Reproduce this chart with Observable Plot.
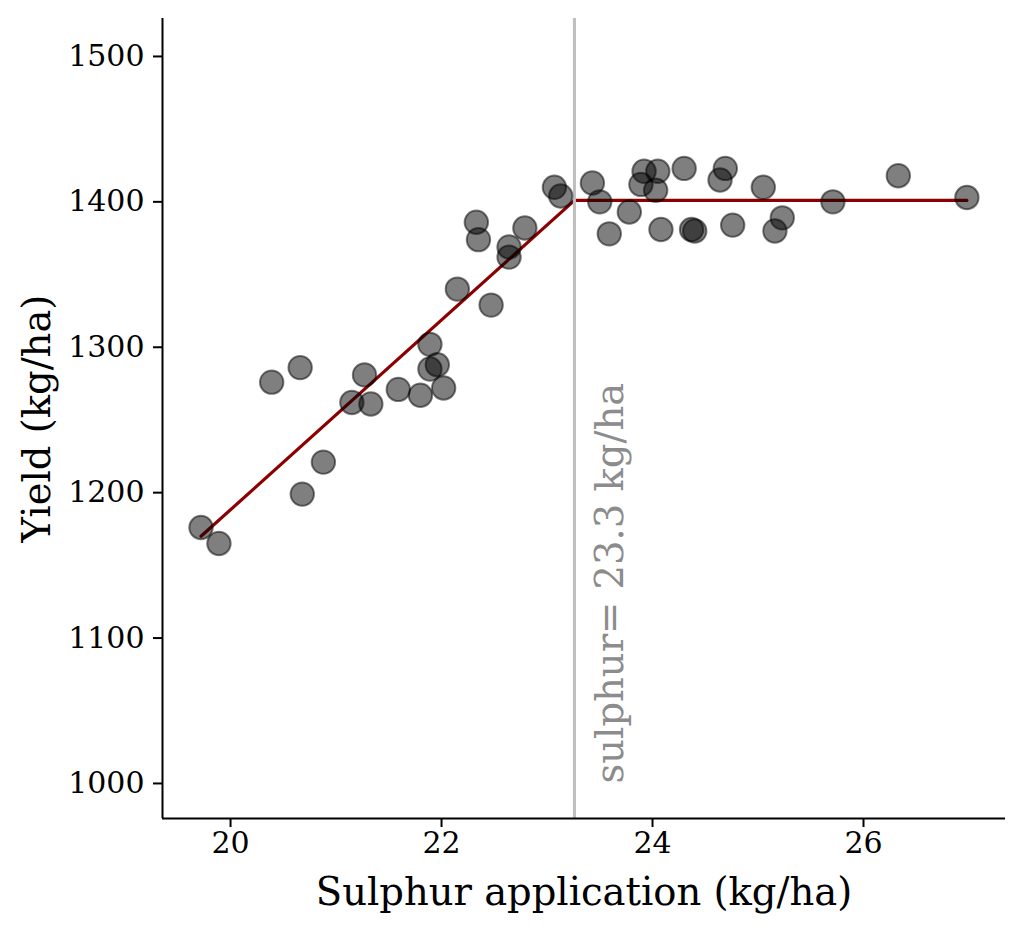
<!DOCTYPE html>
<html>
<head>
<meta charset="utf-8">
<script src="https://cdn.jsdelivr.net/npm/d3@7"></script>
<script src="https://cdn.jsdelivr.net/npm/@observablehq/plot@0.6"></script>
<style>
  html, body { margin: 0; padding: 0; background: white; }
</style>
</head>
<body>
<div id="chart"></div>
<script>
const sulphur = [19.72, 19.89, 20.39, 20.66, 20.68, 20.88, 21.15, 21.27, 21.33, 21.59, 21.80, 21.89, 21.89, 21.96, 22.02, 22.15, 22.47, 22.33, 22.35, 22.64, 22.64, 22.79, 23.07, 23.13, 23.43, 23.50, 23.78, 23.59, 23.92, 23.89, 24.05, 24.03, 24.08, 24.30, 24.37, 24.40, 24.64, 24.69, 24.76, 25.05, 25.23, 25.16, 25.71, 26.33, 26.98];
const yieldKg = [1176, 1165, 1276, 1286, 1199, 1221, 1262, 1281, 1261, 1271, 1267, 1302, 1285, 1288, 1272, 1340, 1329, 1386, 1374, 1369, 1362, 1382, 1410, 1404, 1413, 1400, 1393, 1378, 1421, 1412, 1421, 1408, 1381, 1423, 1381, 1380, 1415, 1423, 1384, 1410, 1389, 1380, 1400, 1418, 1403];

// Linear-plateau fit
const fitX = [19.72, 23.26, 26.98];
const fitY = [1170, 1401, 1401];

// Breakpoint and annotation
const breakpoint = [23.26];
const annotationLabel = ["sulphur= 23.3 kg/ha"];
const annotationX = [23.6];
const annotationY = [1000];

// Axis ticks and titles
const xTicks = [20, 22, 24, 26];
const yTicks = [1000, 1100, 1200, 1300, 1400, 1500];
const xTitle = "Sulphur application (kg/ha)";
const yTitle = "Yield (kg/ha)";

const points = sulphur.map((s, i) => ({ s, y: yieldKg[i] }));
const fit = fitX.map((s, i) => ({ s, y: fitY[i] }));
const ann = annotationLabel.map((t, i) => ({ t, s: annotationX[i], y: annotationY[i] }));

const xDomain = [19.355, 27.346];
const yDomain = [975.9, 1526.1];

const chart = Plot.plot({
  width: 1024,
  height: 931,
  marginLeft: 162,
  marginRight: 19,
  marginTop: 18,
  marginBottom: 113,
  style: { fontFamily: "DejaVu Serif", background: "white", color: "black" },
  x: { domain: xDomain, label: null },
  y: { domain: yDomain, label: null },
  marks: [
    Plot.line(fit, { x: "s", y: "y", stroke: "#8B0000", strokeWidth: 3.2 }),
    Plot.ruleX(breakpoint, { stroke: "#BEBEBE", strokeWidth: 3 }),
    Plot.dot(points, { x: "s", y: "y", r: 11.7, fill: "black", fillOpacity: 0.5, stroke: "black", strokeOpacity: 0.5, strokeWidth: 2 }),
    Plot.text(ann, { x: "s", y: "y", text: "t", rotate: -90, textAnchor: "start", lineAnchor: "middle", fill: "#8c8c8c", fontSize: 38.5, fontFamily: "DejaVu Serif" }),
    Plot.ruleX([xDomain[0]], { stroke: "black", strokeWidth: 2 }),
    Plot.ruleY([yDomain[0]], { stroke: "black", strokeWidth: 2 }),
    Plot.axisX({ ticks: xTicks, tickSize: 9, tickPadding: 4, strokeWidth: 2, fontSize: 30, label: null, tickFormat: d => String(d) }),
    Plot.axisY({ ticks: yTicks, tickSize: 9, tickPadding: 9, strokeWidth: 2, fontSize: 30, label: null, tickFormat: d => String(d) }),
    Plot.text([xTitle], { frameAnchor: "bottom", dy: 74, lineAnchor: "middle", textAnchor: "middle", fontSize: 38.5, fill: "black", fontFamily: "DejaVu Serif" }),
    Plot.text([yTitle], { frameAnchor: "left", dx: -125, rotate: -90, lineAnchor: "middle", textAnchor: "middle", fontSize: 38.5, fill: "black", fontFamily: "DejaVu Serif" })
  ]
});
document.getElementById("chart").appendChild(chart);
</script>
</body>
</html>
